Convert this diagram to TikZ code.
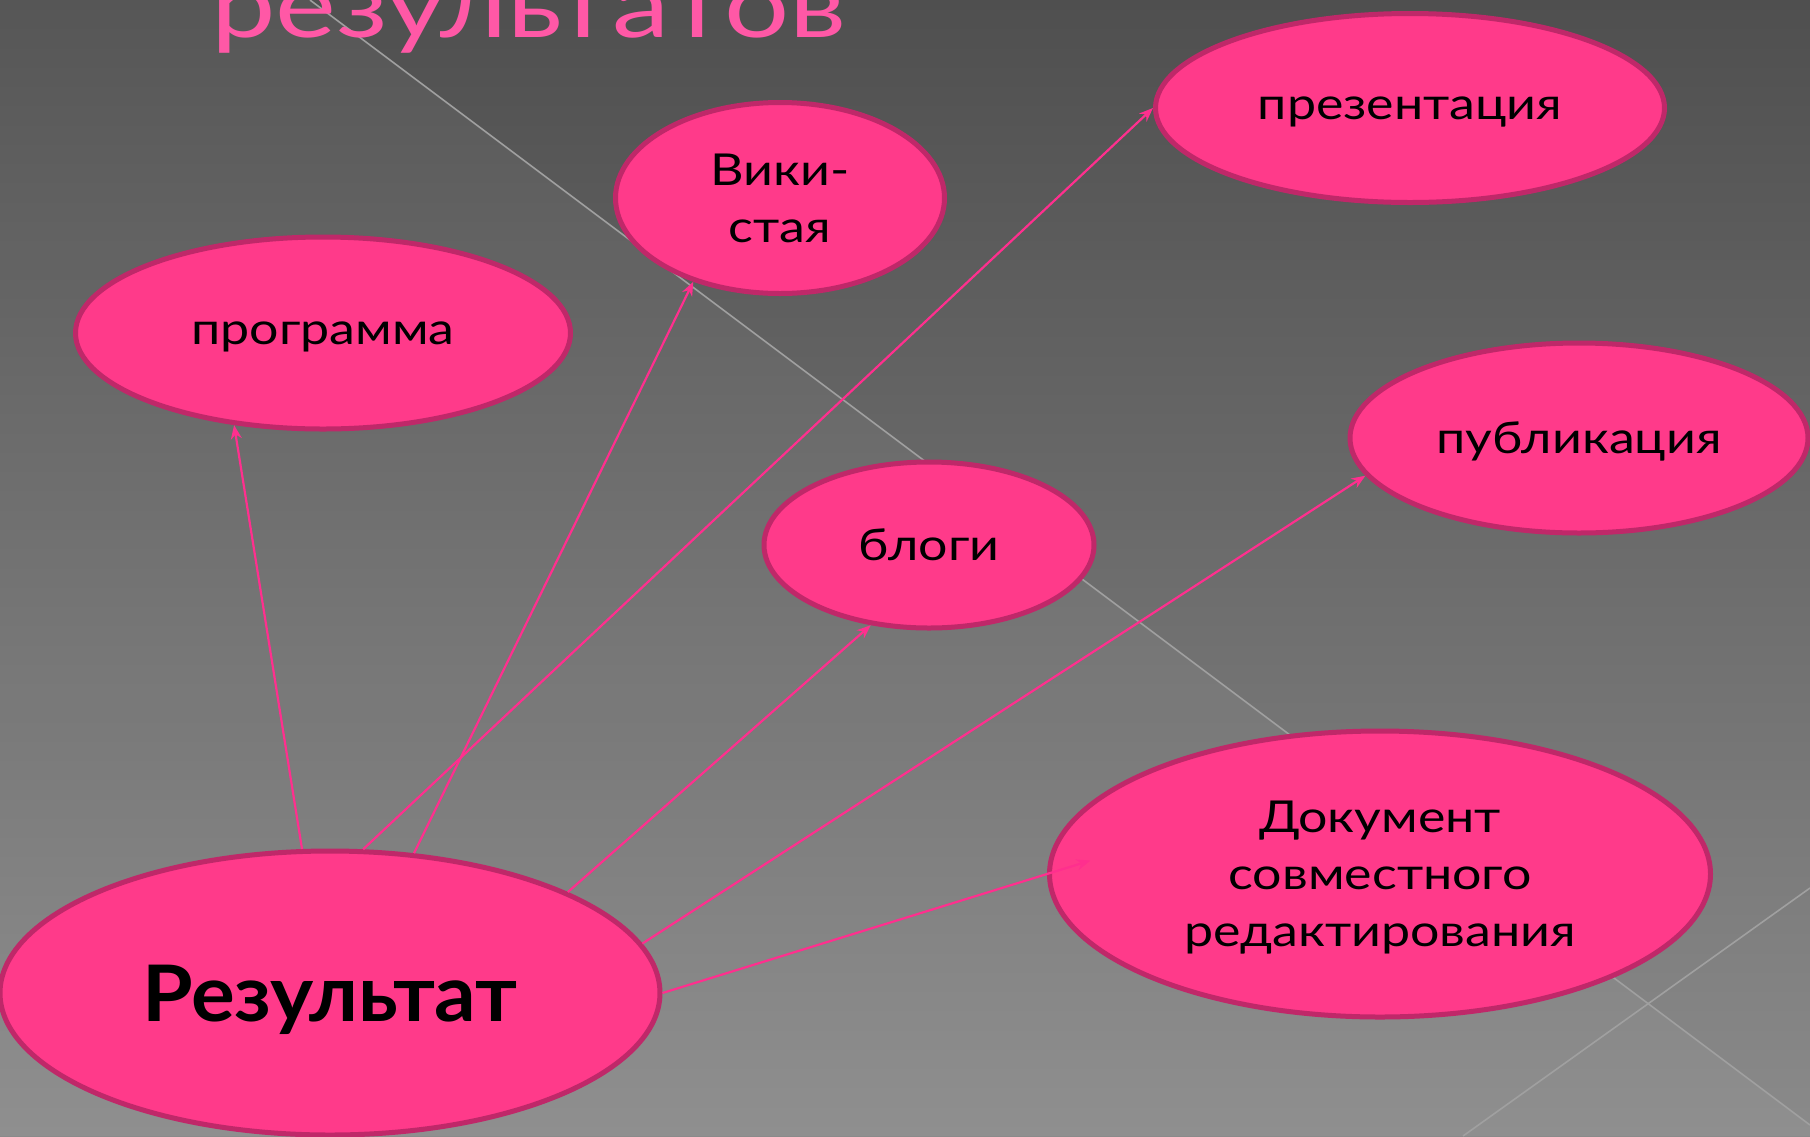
\documentclass[tikz,border=0pt]{standalone}
\usepackage{fontspec}
\setmainfont{Lato}
\newfontfamily\nodefont[FakeStretch=1.18]{Lato}
\newfontfamily\resfont[FakeStretch=1.05]{Lato}
\newfontfamily\titlefont[FakeStretch=1.25]{Lato}
\usetikzlibrary{shapes.geometric,arrows.meta,calc}
\definecolor{bubble}{HTML}{FF3A8A}
\definecolor{bubbleedge}{HTML}{BF2869}
\definecolor{arrowpink}{HTML}{FF2F8E}
\definecolor{titlepink}{HTML}{FF58A6}
\definecolor{bgtop}{HTML}{4F4F4F}
\definecolor{bgbot}{HTML}{8A8A8A}
\definecolor{bgline}{HTML}{A0A0A0}
\tikzset{
  bubble/.style={ellipse, draw=bubbleedge, fill=bubble, line width=5pt, inner sep=0pt,
    align=center, text=black, text depth=0pt, font=\nodefont\fontsize{44}{57}\selectfont},
  link/.style={draw=arrowpink, line width=2.2pt, -{Stealth[length=14pt,width=11pt]}},
  bgstroke/.style={draw=bgline, line width=1.6pt}
}
\begin{document}
\begin{tikzpicture}[x=1pt,y=-1pt]
\useasboundingbox (0,0) rectangle (1810,1136);
\shade[top color=bgtop, bottom color=bgbot] (0,0) rectangle (1810,1136);
\fill[white, opacity=0.045] (0,0) -- (310,0) -- (1810,1125) -- (1810,1136) -- (0,1136) -- cycle;
\draw[bgstroke] (310,0) -- (1810,1125);
\draw[bgstroke] (1463,1136) -- (1810,888);

\node[anchor=base west, text=titlepink, inner sep=0pt,
  font=\titlefont\fontsize{92}{92}\selectfont] (title) at (211,37) {результатов};

\node[bubble, minimum width=495pt, minimum height=192pt] (prog) at (323,333) {программа};
\node[bubble, minimum width=329pt, minimum height=191pt] (wiki) at (780,198) {Вики-\\стая};
\node[bubble, minimum width=509pt, minimum height=189pt] (pres) at (1410,108) {презентация};
\node[bubble, minimum width=458pt, minimum height=190pt] (pub) at (1579,438) {публикация};
\node[bubble, minimum width=330pt, minimum height=166pt] (blog) at (929,545) {блоги};
\node[bubble, minimum width=661pt, minimum height=286pt] (doc) at (1380,874) {Документ\\совместного\\редактирования};
\node[bubble, minimum width=660pt, minimum height=284pt,
  font=\resfont\fontsize{78}{80}\selectfont\bfseries] (res) at (330,993) {Результат};

\draw[link] (res.101.6) -- (prog.226.4);
\draw[link] (res.59.4) -- (wiki.224);
\draw[link] (res.77.6) -- (pres.180);
\draw[link] (res.23.1) -- (blog.234);
\draw[link] (res.9.3) -- (pub.190.4);
\draw[link] (res.east) -- ($(res.east)!1.113!(doc.west)$);
\end{tikzpicture}
\end{document}
